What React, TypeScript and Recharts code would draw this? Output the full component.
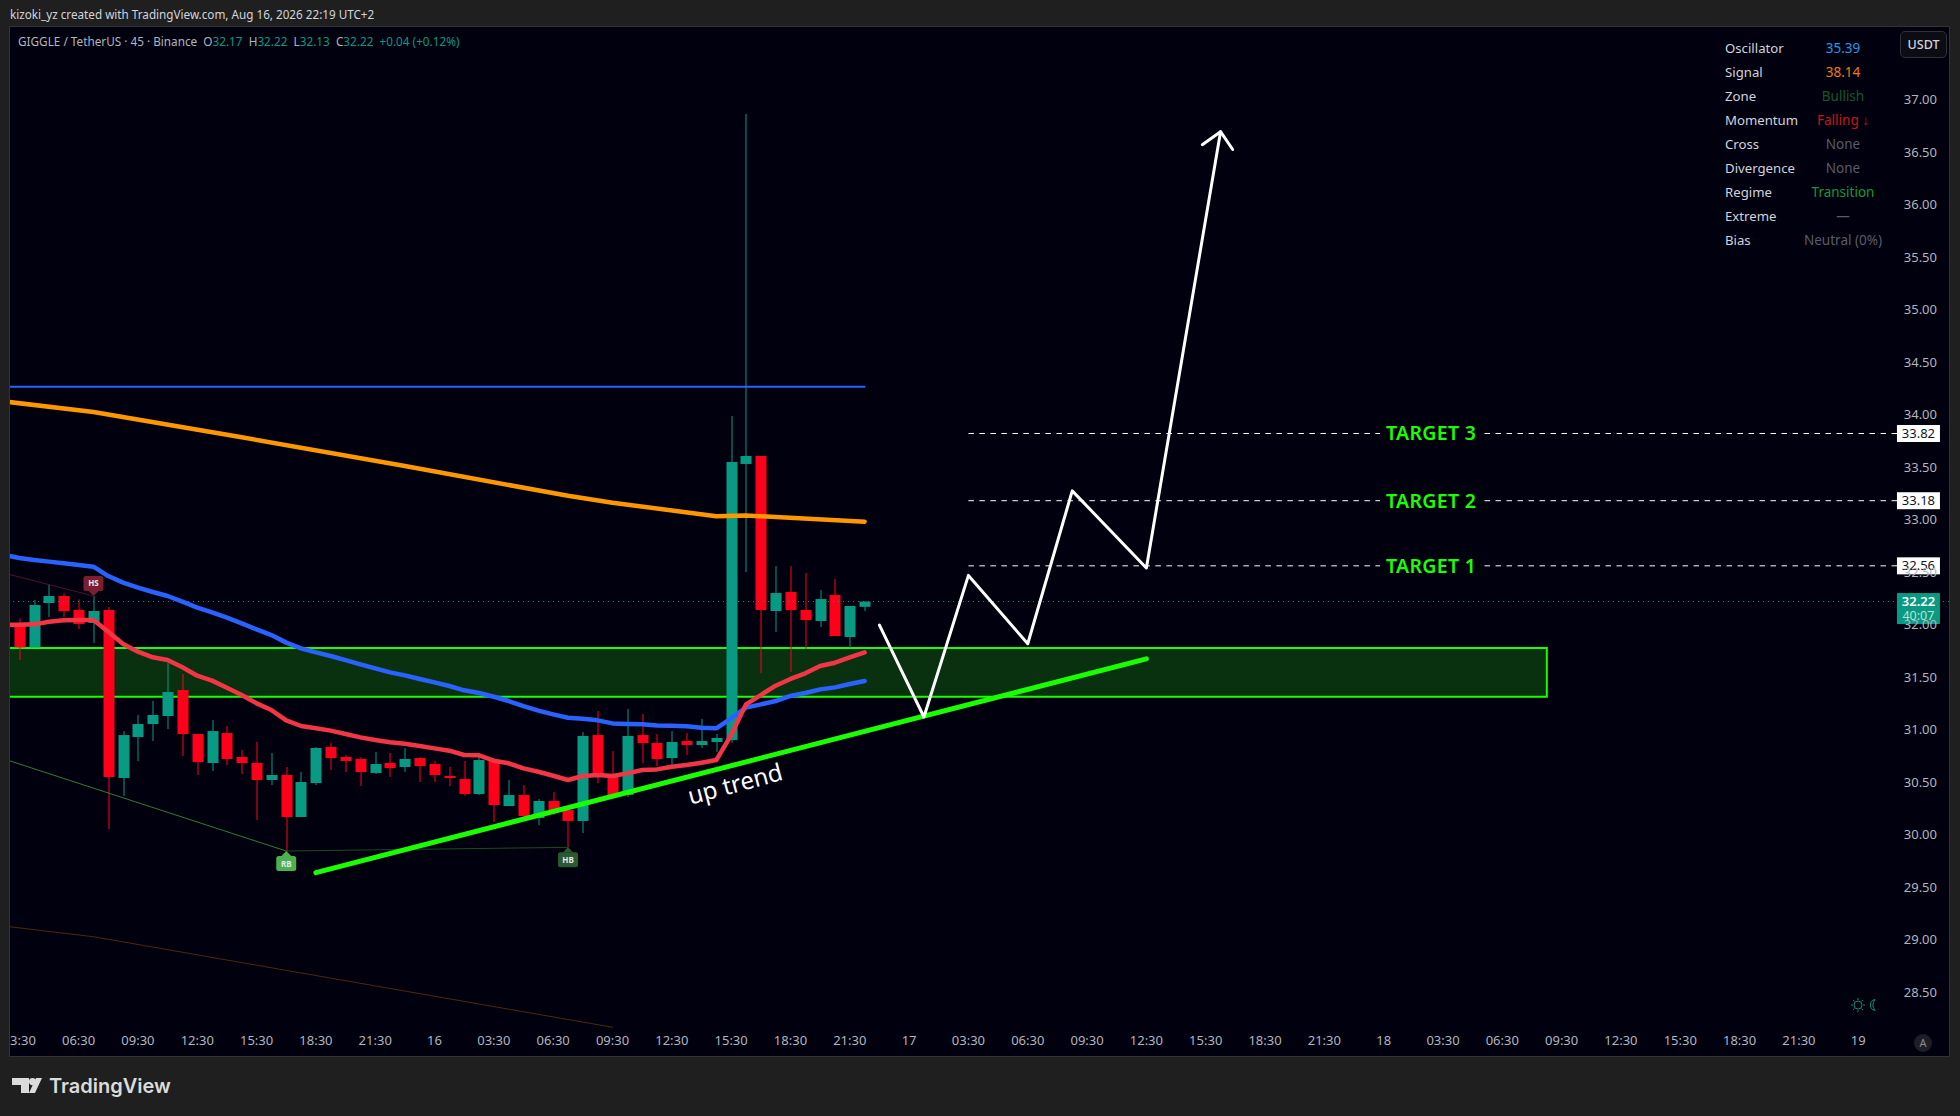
import React from 'react';
import {
  ComposedChart,
  Bar,
  Line,
  XAxis,
  YAxis,
  ReferenceArea,
  ReferenceLine,
  ReferenceDot,
} from 'recharts';

// 45 minute candles, bar 0 is 03:30 on the 15th
const opens = [32.006, 31.784, 32.206, 32.273, 32.14, 32.016, 32.14, 30.54, 30.93, 31.054, 31.13, 31.378, 30.959, 30.683, 30.968, 30.74, 30.683, 30.521, 30.569, 30.169, 30.492, 30.835, 30.74, 30.721, 30.588, 30.683, 30.645, 30.73, 30.673, 30.559, 30.53, 30.388, 30.711, 30.273, 30.378, 30.159, 30.321, 30.235, 30.131, 30.949, 30.578, 30.378, 30.949, 30.873, 30.73, 30.892, 30.854, 30.883, 30.902, 33.53, 33.606, 32.13, 32.311, 32.14, 32.035, 32.282, 31.882, 32.17];
const highs = [32.06, 32.235, 32.384, 32.298, 32.241, 32.273, 32.168, 30.987, 31.14, 31.273, 31.635, 31.53, 30.959, 31.092, 31.035, 30.807, 30.883, 30.778, 30.645, 30.597, 30.835, 30.873, 30.759, 30.74, 30.788, 30.778, 30.826, 30.74, 30.702, 30.645, 30.702, 30.749, 30.711, 30.521, 30.473, 30.34, 30.407, 30.245, 30.978, 31.178, 30.797, 31.197, 31.149, 30.959, 30.987, 30.968, 31.102, 30.959, 33.987, 36.862, 33.606, 32.558, 32.558, 32.492, 32.33, 32.435, 32.178, 32.22];
const lows = [31.664, 31.784, 32.073, 32.073, 31.959, 31.825, 30.054, 30.369, 30.702, 30.892, 31.006, 30.749, 30.569, 30.607, 30.664, 30.578, 30.14, 30.473, 29.839, 30.169, 30.473, 30.616, 30.597, 30.464, 30.578, 30.55, 30.597, 30.502, 30.502, 30.464, 30.369, 30.378, 30.121, 30.273, 30.169, 30.093, 30.188, 29.88, 30.016, 30.492, 30.359, 30.359, 30.683, 30.654, 30.664, 30.759, 30.826, 30.788, 30.876, 32.5, 31.54, 31.93, 31.549, 31.768, 31.978, 31.892, 31.778, 32.13];
const closes = [31.784, 32.187, 32.273, 32.13, 32.006, 32.13, 30.55, 30.949, 31.054, 31.14, 31.359, 30.959, 30.692, 30.987, 30.721, 30.683, 30.521, 30.569, 30.169, 30.502, 30.826, 30.73, 30.702, 30.597, 30.673, 30.635, 30.721, 30.654, 30.569, 30.54, 30.388, 30.711, 30.283, 30.378, 30.178, 30.321, 30.226, 30.131, 30.94, 30.578, 30.378, 30.94, 30.873, 30.721, 30.883, 30.854, 30.892, 30.921, 33.549, 33.606, 32.14, 32.301, 32.14, 32.044, 32.244, 31.892, 32.178, 32.22];

// moving averages, first value is the bar before the left edge
const blueMa = [32.663, 32.635, 32.616, 32.6, 32.584, 32.568, 32.552, 32.463, 32.4, 32.352, 32.311, 32.273, 32.219, 32.162, 32.117, 32.067, 32.013, 31.955, 31.901, 31.829, 31.775, 31.736, 31.702, 31.663, 31.622, 31.584, 31.546, 31.517, 31.483, 31.451, 31.416, 31.375, 31.349, 31.314, 31.273, 31.225, 31.181, 31.146, 31.114, 31.105, 31.089, 31.06, 31.054, 31.051, 31.041, 31.038, 31.032, 31.019, 31.013, 31.108, 31.21, 31.241, 31.273, 31.321, 31.349, 31.384, 31.403, 31.435, 31.464];
const redMa = [31.997, 32.0, 32.003, 32.028, 32.041, 32.044, 32.044, 31.933, 31.816, 31.743, 31.689, 31.663, 31.594, 31.514, 31.467, 31.4, 31.33, 31.251, 31.187, 31.089, 31.035, 31.013, 30.991, 30.959, 30.927, 30.902, 30.88, 30.867, 30.845, 30.822, 30.8, 30.759, 30.756, 30.705, 30.68, 30.632, 30.6, 30.562, 30.521, 30.559, 30.569, 30.559, 30.584, 30.616, 30.622, 30.648, 30.664, 30.686, 30.711, 30.949, 31.241, 31.33, 31.419, 31.483, 31.537, 31.606, 31.638, 31.689, 31.736];

// vertices of the slow lines and of the hand drawn shapes: [bar, price]
const orangeMa = [[-1, 34.125], [5, 34.025], [15, 33.784], [26, 33.51], [37, 33.227], [40, 33.161], [47, 33.032], [49, 33.04], [57, 32.98]];
const brownMa = [[-1, 29.13], [5, 29.029], [40, 28.167]];
const lowerWedge = [[-1, 30.72], [18, 29.845]];
const lowerFlat = [[18, 29.845], [37, 29.88]];
const upperWedge = [[-1, 32.49], [5, 32.273]];
const flatLevel = [[-1, 34.265], [57, 34.265]];
const trendLine = [[20, 29.639], [76, 31.675]];
const projection = [[58, 31.995], [61, 31.121], [64, 32.469], [68, 31.818], [71, 33.274], [76, 32.54], [81, 36.693]];
const arrowHead = [[79.77, 36.569], [81, 36.693], [81.82, 36.524]];

const zoneTop = 31.778;
const zoneBottom = 31.314;
const zoneEndBar = 103;

const targetLevels = [33.82, 33.18, 32.56];
const targetNames = ['TARGET 3', 'TARGET 2', 'TARGET 1'];
const lastPrice = 32.22;

const priceTicks = [28.5, 29, 29.5, 30, 30.5, 31, 31.5, 32, 32.5, 33, 33.5, 34, 34.5, 35, 35.5, 36, 36.5, 37];
const timeLabels = ['03:30', '06:30', '09:30', '12:30', '15:30', '18:30', '21:30', '16', '03:30', '06:30', '09:30', '12:30', '15:30', '18:30', '21:30', '17', '03:30', '06:30', '09:30', '12:30', '15:30', '18:30', '21:30', '18', '03:30', '06:30', '09:30', '12:30', '15:30', '18:30', '21:30', '19'];

const tableLabels = ['Oscillator', 'Signal', 'Zone', 'Momentum', 'Cross', 'Divergence', 'Regime', 'Extreme', 'Bias'];
const tableValues = ['35.39', '38.14', 'Bullish', 'Falling ↓', 'None', 'None', 'Transition', '—', 'Neutral (0%)'];
const tableColors = ['#1e9be8', '#f07a14', '#14592b', '#c8161c', '#5c5c68', '#5c5c68', '#0f9a3c', '#5c5c68', '#5c5c68'];

const UP = '#089a82';
const DOWN = '#ff001a';
const LIME = '#1aff00';
const FONT = '"Noto Sans", sans-serif';

const rows = [
  { bar: -1, blue: blueMa[0], red: redMa[0] },
  ...opens.map((open, i) => ({
    bar: i,
    open,
    high: highs[i],
    low: lows[i],
    close: closes[i],
    range: [lows[i], highs[i]],
    blue: blueMa[i + 1],
    red: redMa[i + 1],
  })),
];

const toPoints = (pairs: number[][]) => pairs.map(([bar, value]) => ({ bar, value }));

const Candle = (props: any) => {
  const { x, y, width, height, payload } = props;
  if (!payload || payload.high === undefined) return null;
  const unit = height / (payload.high - payload.low);
  const yOf = (p: number) => y + (payload.high - p) * unit;
  const up = payload.close >= payload.open;
  const color = up ? UP : DOWN;
  const top = yOf(Math.max(payload.open, payload.close));
  const bottom = yOf(Math.min(payload.open, payload.close));
  const mid = Math.round(x + width / 2);
  return (
    <g>
      <rect x={mid - 0.5} y={y} width={1} height={height} fill={color} />
      <rect x={mid - 5.5} y={top} width={11} height={Math.max(bottom - top, 1)} fill={color} />
    </g>
  );
};

const PriceTag = (props: any) => {
  const { cx, cy, label } = props;
  return (
    <g>
      <rect x={cx - 21.5} y={cy - 8.5} width={43} height={17} fill="#ffffff" />
      <text x={cx} y={cy + 4.5} textAnchor="middle" fontSize={13} fontFamily={FONT} fill="#131722">{label}</text>
    </g>
  );
};

const LastTag = (props: any) => {
  const { cx, cy } = props;
  return (
    <g>
      <rect x={cx - 21.5} y={cy - 8.5} width={43} height={31} fill={UP} />
      <text x={cx} y={cy + 4.5} textAnchor="middle" fontSize={13} fontWeight={600} fontFamily={FONT} fill="#ffffff">32.22</text>
      <text x={cx} y={cy + 18.5} textAnchor="middle" fontSize={12.5} fontFamily={FONT} fill="#b5e3d9">40:07</text>
    </g>
  );
};

const Badge = (props: any) => {
  const { cx, cy, label, tone, below } = props;
  const dir = below ? 1 : -1;
  const bodyNear = cy + dir * 5;
  const bodyFar = cy + dir * 20;
  return (
    <g>
      <path d={`M${cx - 5} ${bodyNear} L${cx} ${cy} L${cx + 5} ${bodyNear} Z`} fill={tone} />
      <rect x={cx - 10} y={Math.min(bodyNear, bodyFar)} width={20} height={15} rx={2.5} fill={tone} />
      <text x={cx} y={(bodyNear + bodyFar) / 2 + 3} textAnchor="middle" fontSize={8} fontWeight={700} fontFamily={FONT} fill="#e6e6e6">{label}</text>
    </g>
  );
};

const TargetText = (props: any) => {
  const { cx, cy, label } = props;
  return (
    <text x={cx} y={cy + 7} textAnchor="middle" fontSize={19.5} fontWeight={600} letterSpacing={0.3} fontFamily={FONT} fill={LIME}>{label}</text>
  );
};

const TrendText = (props: any) => {
  const { cx, cy } = props;
  return (
    <text x={cx} y={cy} textAnchor="middle" dominantBaseline="middle" fontSize={24} fontFamily={FONT} fill="#ffffff" transform={`rotate(-15 ${cx} ${cy})`}>up trend</text>
  );
};

const hand = (key: string, pairs: number[][], color: string, width: number, opacity = 1) => (
  <Line
    key={key}
    data={toPoints(pairs)}
    dataKey="value"
    stroke={color}
    strokeWidth={width}
    strokeOpacity={opacity}
    strokeLinecap="round"
    strokeLinejoin="round"
    dot={false}
    activeDot={false}
    legendType="none"
    isAnimationActive={false}
  />
);

const App = () => {
  return (
    <div style={{ position: 'absolute', left: 0, top: 0, width: 1960, height: 1116, background: '#1f1f1f', overflow: 'hidden', fontFamily: FONT }}>
      <div style={{ position: 'absolute', left: 10, top: 6, fontSize: 11.7, lineHeight: '17px', color: '#d1d4dc', whiteSpace: 'nowrap' }}>
        kizoki_yz created with TradingView.com, Aug 16, 2026 22:19 UTC+2
      </div>

      <div style={{ position: 'absolute', left: 9, top: 26, width: 1941, height: 1031, border: '1px solid #333333', boxSizing: 'border-box' }} />
      <div style={{ position: 'absolute', left: 10, top: 27, width: 1939, height: 1029, background: '#01000f', overflow: 'hidden' }}>
        <ComposedChart width={1939} height={1029} data={rows} margin={{ top: 0, right: 0, bottom: 0, left: 0 }}>
          <XAxis
            dataKey="bar"
            type="number"
            domain={[-0.627, 130.12]}
            allowDataOverflow
            ticks={timeLabels.map((_, i) => i * 4)}
            interval={0}
            tickFormatter={(v: number) => timeLabels[v / 4]}
            height={26}
            axisLine={false}
            tickLine={false}
            tickSize={0}
            tickMargin={6}
            tick={{ fill: '#b2b5be', fontSize: 13, fontFamily: FONT }}
          />
          <YAxis
            orientation="right"
            mirror
            type="number"
            domain={[28.141, 37.69]}
            allowDataOverflow
            ticks={priceTicks}
            interval={0}
            tickFormatter={(v: number) => v.toFixed(2)}
            width={54}
            axisLine={false}
            tickLine={false}
            tickSize={0}
            tickMargin={12}
            tick={{ fill: '#b2b5be', fontSize: 13, fontFamily: FONT }}
          />

          <ReferenceArea x1={-3} x2={zoneEndBar} y1={zoneBottom} y2={zoneTop} fill="#09300f" fillOpacity={1} stroke={LIME} strokeWidth={2} ifOverflow="hidden" />
          <ReferenceLine y={lastPrice} stroke={UP} strokeDasharray="1 4" strokeWidth={1} segment={[{ x: -1, y: lastPrice }, { x: 127, y: lastPrice }]} ifOverflow="hidden" />

          {targetLevels.map((level) => (
            <ReferenceLine key={`a${level}`} segment={[{ x: 64, y: level }, { x: 91.75, y: level }]} stroke="#ffffff" strokeDasharray="5.5 5.5" strokeWidth={1} />
          ))}
          {targetLevels.map((level) => (
            <ReferenceLine key={`b${level}`} segment={[{ x: 98.8, y: level }, { x: 127, y: level }]} stroke="#ffffff" strokeDasharray="5.5 5.5" strokeWidth={1} />
          ))}

          {hand('brown', brownMa, '#4a2a10', 1)}
          {hand('wedge', lowerWedge, '#2f7d36', 1)}
          {hand('flat', lowerFlat, '#1d4a24', 1)}
          {hand('upper', upperWedge, '#4f1424', 1)}
          {hand('level', flatLevel, '#2962ff', 2)}
          {hand('orange', orangeMa, '#ff9800', 4.5)}
          <Line dataKey="blue" stroke="#2962ff" strokeWidth={4.5} strokeLinecap="round" strokeLinejoin="round" dot={false} activeDot={false} isAnimationActive={false} />
          <Line dataKey="red" stroke="#f23645" strokeWidth={4.5} strokeLinecap="round" strokeLinejoin="round" dot={false} activeDot={false} isAnimationActive={false} />
          {hand('trend', trendLine, LIME, 5)}

          <Bar dataKey="range" barSize={11} shape={<Candle />} isAnimationActive={false} />

          {hand('projection', projection, '#ffffff', 3)}
          {hand('arrow', arrowHead, '#ffffff', 3)}

          <ReferenceDot x={5} y={32.273} r={0} shape={<Badge label="HS" tone="#7b1e30" />} />
          <ReferenceDot x={18} y={29.845} r={0} shape={<Badge label="RB" tone="#4caf50" below />} />
          <ReferenceDot x={37} y={29.88} r={0} shape={<Badge label="HB" tone="#2b5a32" below />} />
          <ReferenceDot x={48.3} y={30.465} r={0} shape={<TrendText />} />
          {targetLevels.map((level, i) => (
            <ReferenceDot key={`t${level}`} x={95.2} y={level} r={0} shape={<TargetText label={targetNames[i]} />} />
          ))}
          {targetLevels.map((level) => (
            <ReferenceDot key={`p${level}`} x={128.06} y={level} r={0} shape={<PriceTag label={level.toFixed(2)} />} />
          ))}
          <ReferenceDot x={128.06} y={lastPrice} r={0} shape={<LastTag />} />
        </ComposedChart>
      </div>

      {/* legend line */}
      <div style={{ position: 'absolute', left: 18, top: 33, fontSize: 11.75, lineHeight: '17px', color: '#b2b5be', whiteSpace: 'pre' }}>
        GIGGLE / TetherUS · 45 · Binance{'  '}O<span style={{ color: UP }}>32.17</span>{'  '}H<span style={{ color: UP }}>32.22</span>{'  '}L<span style={{ color: UP }}>32.13</span>{'  '}C<span style={{ color: UP }}>32.22</span>{'  '}<span style={{ color: UP }}>+0.04 (+0.12%)</span>
      </div>

      {/* status table */}
      {tableLabels.map((label, i) => (
        <React.Fragment key={label}>
          <div style={{ position: 'absolute', left: 1725, top: 38 + i * 24, fontSize: 13.2, lineHeight: '20px', color: '#d1d4dc' }}>{label}</div>
          <div style={{ position: 'absolute', left: 1783, width: 120, textAlign: 'center', top: 38 + i * 24, fontSize: 13.5, lineHeight: '20px', color: tableColors[i] }}>{tableValues[i]}</div>
        </React.Fragment>
      ))}

      <div style={{ position: 'absolute', left: 1900, top: 31, width: 47, height: 27, boxSizing: 'border-box', border: '1px solid #303036', borderRadius: 5, background: '#0c0c14', color: '#d1d4dc', fontSize: 12.5, fontWeight: 500, lineHeight: '25px', textAlign: 'center' }}>USDT</div>

      {/* session icon */}
      <svg style={{ position: 'absolute', left: 1850, top: 997 }} width={30} height={16}>
        <circle cx={8} cy={8} r={4} fill="none" stroke="#0b8a70" strokeWidth={1} />
        <path d="M8 1V3M8 13V15M1 8H3M13 8H15M3 3L4.5 4.5M13 3L11.5 4.5M3 13L4.5 11.5M13 13L11.5 11.5" stroke="#0b8a70" strokeWidth={1} />
        <path d="M25 2.5A5.6 5.6 0 0 0 25 13.5A9 9 0 0 1 25 2.5Z" fill="none" stroke="#0b8a70" strokeWidth={1} />
      </svg>

      <div style={{ position: 'absolute', left: 1914, top: 1034, width: 18, height: 18, borderRadius: 9, background: '#1e1e26', color: '#8a8a90', fontSize: 11, lineHeight: '18px', textAlign: 'center' }}>A</div>

      {/* TradingView logo */}
      <svg style={{ position: 'absolute', left: 12, top: 1078 }} width={30} height={16}>
        <path d="M0 0H17V15H9V7H0Z" fill="#dbdbdb" />
        <circle cx={20.5} cy={3.6} r={3.6} fill="#dbdbdb" />
        <path d="M17 15L24 0H30L23 15Z" fill="#dbdbdb" />
      </svg>
      <div style={{ position: 'absolute', left: 49, top: 1071, fontSize: 20, lineHeight: '30px', fontWeight: 600, fontFamily: 'Inter, sans-serif', color: '#dbdbdb' }}>TradingView</div>
    </div>
  );
};

export default App;
